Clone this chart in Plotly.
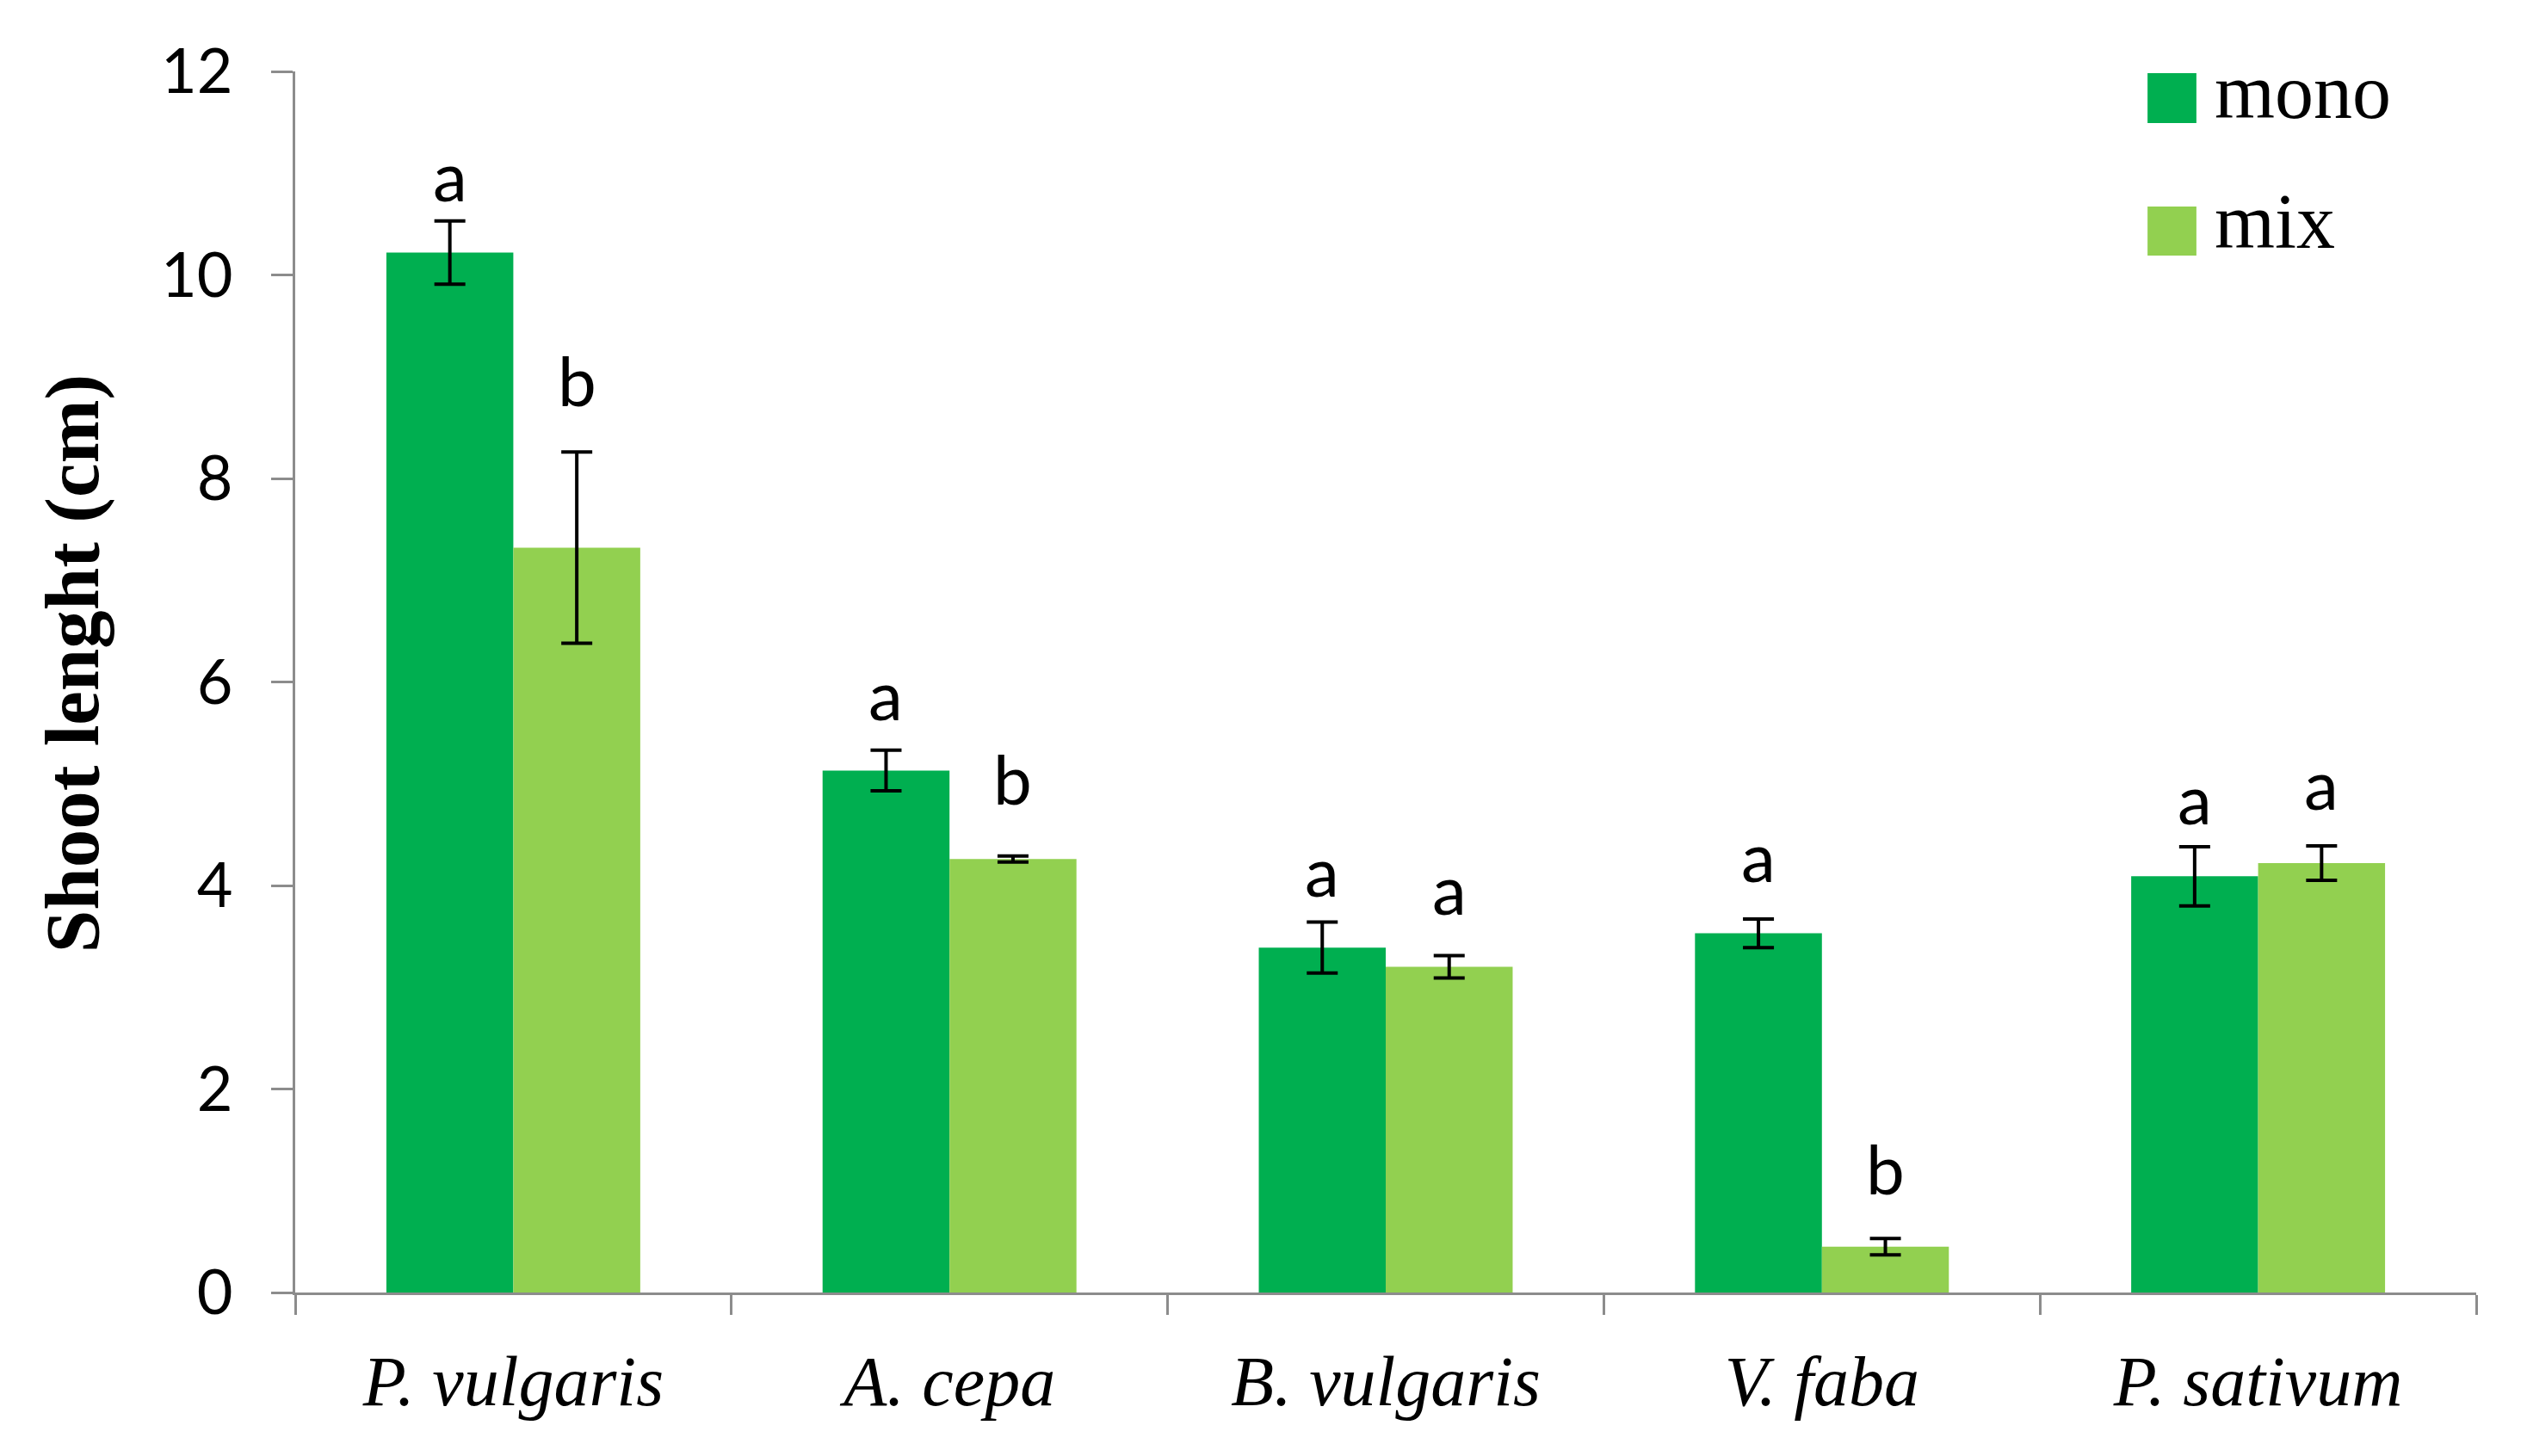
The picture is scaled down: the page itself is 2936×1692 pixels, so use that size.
import plotly.graph_objects as go

species = ["P. vulgaris", "A. cepa", "B. vulgaris", "V. faba", "P. sativum"]
mono = [10.22, 5.13, 3.39, 3.53, 4.09]
mono_err = [0.31, 0.20, 0.25, 0.14, 0.29]
mix = [7.32, 4.26, 3.20, 0.45, 4.22]
mix_err = [0.94, 0.03, 0.11, 0.08, 0.17]
mono_letters = ["a", "a", "a", "a", "a"]
mix_letters = ["b", "b", "a", "b", "a"]
mono_letter_y = [10.72, 5.62, 3.89, 4.03, 4.60]
mix_letter_y = [8.71, 4.79, 3.71, 0.96, 4.74]

C_MONO = "#00AF50"
C_MIX = "#92D050"

fig = go.Figure()
fig.add_trace(go.Bar(x=species, y=mono, name="mono", marker_color=C_MONO, marker_line_width=0,
                     error_y=dict(type="data", array=mono_err, color="black", thickness=4, width=18),
                     showlegend=False))
fig.add_trace(go.Bar(x=species, y=mix, name="mix", marker_color=C_MIX, marker_line_width=0,
                     error_y=dict(type="data", array=mix_err, color="black", thickness=4, width=18),
                     showlegend=False))

bargap = 0.418
half = (1 - bargap) / 4
LET_SIZE = 80
for i in range(len(species)):
    for off, lab, ly in ((-half, mono_letters[i], mono_letter_y[i]), (half, mix_letters[i], mix_letter_y[i])):
        fig.add_annotation(x=i + off, y=ly, xref="x", yref="y", text=lab, showarrow=False,
                           yanchor="middle", yshift=0.33 * LET_SIZE + 5,
                           font=dict(family="Lato", size=LET_SIZE, color="black"))

# legend drawn manually (large squares)
leg = [("mono", C_MONO, 0.9577, 0.9986, 0.0056), ("mix", C_MIX, 0.8492, 0.8894, 0.008)]
for name, col, y0, y1, dy in leg:
    fig.add_shape(type="rect", xref="paper", yref="paper", x0=0.8493, x1=0.8717, y0=y0, y1=y1,
                  fillcolor=col, line_width=0)
    fig.add_annotation(xref="paper", yref="paper", x=0.8793, y=(y0 + y1) / 2 + dy, text=name, showarrow=False,
                       xanchor="left", yanchor="middle",
                       font=dict(family="Liberation Serif", size=90, color="black"))

# y-axis title
fig.add_annotation(xref="paper", yref="paper", x=-0.1022, y=0.515, text="<b>Shoot lenght (cm)</b>",
                   textangle=-90, showarrow=False, xanchor="center", yanchor="middle",
                   font=dict(family="Liberation Serif", size=89, color="black"))

fig.update_layout(
    width=2936, height=1692,
    margin=dict(l=343, r=59, t=83, b=190),
    paper_bgcolor="white", plot_bgcolor="white",
    barmode="group", bargap=bargap, bargroupgap=0,
    showlegend=False,
)
fig.update_xaxes(
    showline=True, linecolor="#8c8c8c", linewidth=3,
    ticks="outside", tickson="boundaries", ticklen=23, tickwidth=3, tickcolor="#8c8c8c",
    tickfont=dict(family="Liberation Serif", size=82, color="black"),
    ticklabelstandoff=30,
    showgrid=False, zeroline=False,
    tickvals=species, ticktext=["<i>%s</i>" % s for s in species],
)
fig.update_yaxes(
    range=[0, 12], dtick=2,
    showline=True, linecolor="#8c8c8c", linewidth=3,
    ticks="outside", ticklen=25, tickwidth=3, tickcolor="#8c8c8c",
    tickfont=dict(family="Lato", size=72, color="black"),
    ticklabelstandoff=30,
    showgrid=False, zeroline=False,
)

fig.write_html("out.html")
